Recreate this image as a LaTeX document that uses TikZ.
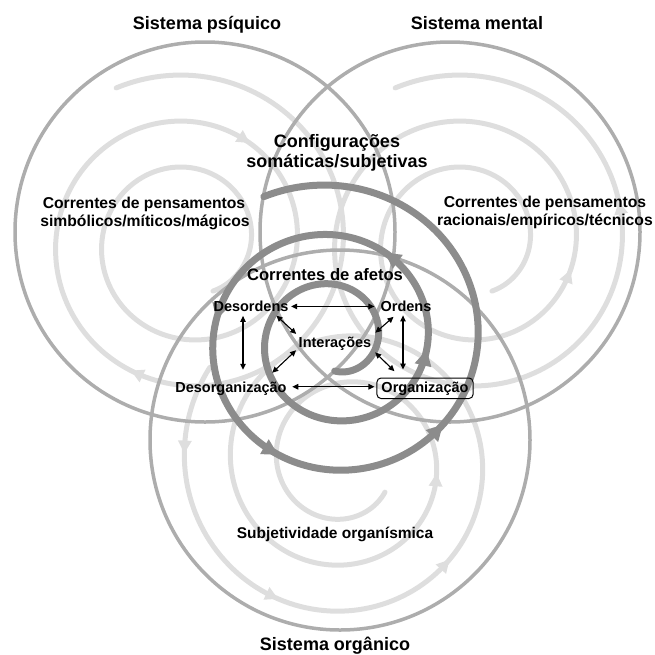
\documentclass[tikz,border=0pt]{standalone}
\usepackage{fontspec}
\setmainfont{Liberation Sans}
\usetikzlibrary{arrows.meta}
\definecolor{spirallight}{gray}{0.87}
\definecolor{ringgray}{gray}{0.68}
\definecolor{spiraldark}{gray}{0.55}
\begin{document}
\begin{tikzpicture}[x=1pt,y=-1pt,
  declare function={
    lspx(\u)=188+(170-0.128*\u)*cos(245+\u);
    lspy(\u)=242+(170-0.128*\u)*sin(245+\u);
    rspx(\u)=467+(170-0.128*\u)*cos(245+\u);
    rspy(\u)=242+(170-0.128*\u)*sin(245+\u);
    bspx(\u)=345+(165-0.128*\u)*cos(215-\u);
    bspy(\u)=462+(165-0.128*\u)*sin(215-\u);
    dspx(\u)=333+0.00278*(630-\u)+(120-0.141667*(630-\u))*cos(1170-\u);
    dspy(\u)=340+(130-0.1375*(720-\u))*sin(1170-\u);
  },
  lightsp/.style={draw=spirallight, line width=5pt, line cap=round},
  lighttip/.style={draw=spirallight, fill=spirallight, line width=5pt,
    -{Triangle[length=13pt,width=13pt]}},
  sysring/.style={draw=ringgray, line width=3.5pt},
  darksp/.style={draw=spiraldark, line width=7pt, line cap=round},
  darktip/.style={draw=spiraldark, fill=spiraldark, line width=7pt,
    -{Triangle[length=16pt,width=16pt]}},
  title/.style={font=\fontsize{18}{20}\selectfont\bfseries, inner sep=0pt, anchor=base},
  mid/.style={font=\fontsize{15.7}{18}\selectfont\bfseries, inner sep=0pt, anchor=base},
  lab/.style={font=\fontsize{14.5}{16}\selectfont\bfseries, inner sep=1pt,
    text height=10.5pt, text depth=0pt, anchor=base},
  conn/.style={line width=1.1pt,
    {Triangle[length=6pt,width=5.5pt]}-{Triangle[length=6pt,width=5.5pt]}},
]
\useasboundingbox (0,0) rectangle (655,654);

% light spirals of the three systems
\draw[lightsp] plot[variable=\u, domain=0:898, samples=400] ({lspx(\u)},{lspy(\u)});
\draw[lightsp] plot[variable=\u, domain=0:898, samples=400] ({rspx(\u)},{rspy(\u)});
\draw[lightsp] plot[variable=\u, domain=0:898, samples=400] ({bspx(\u)},{bspy(\u)});
\foreach \u in {229,417}
  \draw[lighttip] ({lspx(\u-4)},{lspy(\u-4)}) -- ({lspx(\u)},{lspy(\u)});
\foreach \u in {100,200,490}
  \draw[lighttip] ({rspx(\u+4)},{rspy(\u+4)}) -- ({rspx(\u)},{rspy(\u)});
\foreach \u in {32,99,172,568}
  \draw[lighttip] ({bspx(\u-4)},{bspy(\u-4)}) -- ({bspx(\u)},{bspy(\u)});

% outer rings of the systems
\draw[sysring] (205,232) circle[radius=190];
\draw[sysring] (450,232) circle[radius=190];
\draw[sysring] (340,440) circle[radius=190];

% spiral of the affect currents
\draw[darksp] plot[variable=\u, domain=0:925, samples=450] ({dspx(\u)},{dspy(\u)});
\foreach \u in {444,510,620,695,772}
  \draw[darktip] ({dspx(\u-4)},{dspy(\u-4)}) -- ({dspx(\u)},{dspy(\u)});

% labels
\node[title] (tpsi) at (207,29.5) {Sistema psíquico};
\node[title] (tmen) at (477,29.5) {Sistema mental};
\node[title] (torg) at (335,650) {Sistema orgânico};
\node[title] (conf1) at (337,147) {Configurações};
\node[title] (conf2) at (337,167) {somáticas/subjetivas};
\node[mid] (sim1) at (144,208) {Correntes de pensamentos};
\node[mid] (sim2) at (145,226) {simbólicos/míticos/mágicos};
\node[mid] (rac1) at (545,207.5) {Correntes de pensamentos};
\node[mid] (rac2) at (545,225) {racionais/empíricos/técnicos};
\node[font=\fontsize{16.6}{18}\selectfont\bfseries, inner sep=0pt, anchor=base]
  (afe) at (325,280) {Correntes de afetos};
\node[font=\fontsize{15.5}{18}\selectfont\bfseries, inner sep=0pt, anchor=base]
  (subj) at (335,538) {Subjetividade organísmica};

\node[lab] (des) at (251,311.7) {Desordens};
\node[lab] (ord) at (406,311.7) {Ordens};
\node[lab] (int) at (335,347.7) {Interações};
\node[lab] (desorg) at (231,392) {Desorganização};
\node[lab, draw, rounded corners=4pt, line width=1pt, text depth=3pt,
  inner xsep=4.5pt, inner ysep=3.5pt] (org) at (425,392) {Organização};

% links between the four states and the interactions
\coordinate (dv) at ([xshift=-8pt]des.south);
\coordinate (ov) at ([xshift=-3pt]ord.south);
\draw[conn, shorten <=1.5pt, shorten >=5pt] (des.east) -- (ord.west);
\draw[conn, shorten <=4.5pt, shorten >=2pt] (desorg.east) -- (desorg.east -| org.west);
\draw[conn, shorten <=3pt, shorten >=10.5pt] (dv) -- (dv |- desorg.north);
\draw[conn, shorten <=2.5pt, shorten >=8pt] (ov) -- (ov |- org.north);
\draw[conn, shorten <=4pt, shorten >=3pt] (des.-16) -- (int.170);
\draw[conn, shorten <=2pt, shorten >=11pt] (int.south west) -- (desorg.11);
\draw[conn, shorten <=6pt, shorten >=5pt] (ord.-141) -- (int.10);
\draw[conn, shorten <=5pt, shorten >=9pt] (int.-10) -- (org.156);
\end{tikzpicture}
\end{document}
